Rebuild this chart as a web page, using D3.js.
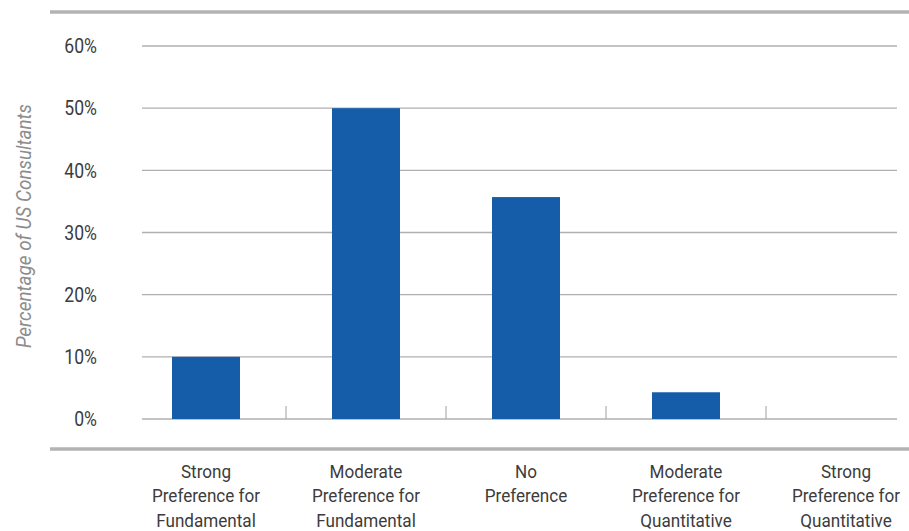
<!DOCTYPE html>
<html>
<head>
<meta charset="utf-8">
<script src="https://cdn.jsdelivr.net/npm/d3@7"></script>
<style>
  html, body { margin: 0; padding: 0; background: #fff; }
  svg { display: block; }
  text { font-family: "Roboto", "Liberation Sans", sans-serif; }
</style>
</head>
<body>
<svg id="chart" width="909" height="531"></svg>
<script>
// Survey responses: preference of US consultants between fundamental and quantitative managers
const categories = [
  ["Strong", "Preference for", "Fundamental"],
  ["Moderate", "Preference for", "Fundamental"],
  ["No", "Preference"],
  ["Moderate", "Preference for", "Quantitative"],
  ["Strong", "Preference for", "Quantitative"]
];
const values = [10, 50, 35.7, 4.3, 0];
const yTicks = [0, 10, 20, 30, 40, 50, 60];
const yTitle = "Percentage of US Consultants";

const svg = d3.select("#chart");

const keys = categories.map(c => c.join(" "));
const x = d3.scaleBand().domain(keys).range([126, 926]).paddingInner(0.575).paddingOuter(0.2875);
const y = d3.scaleLinear().domain([0, 60]).range([419, 46]);

const gridLeft = 142, gridRight = 897;
// narrow glyph proportions for all labels
const narrow = 0.88;

// Frame rules above and below the plot
svg.append("line").attr("x1", 50).attr("x2", 909).attr("y1", 12).attr("y2", 12)
  .attr("stroke", "#b3b3b3").attr("stroke-width", 3.5);
svg.append("line").attr("x1", 50).attr("x2", 909).attr("y1", 449).attr("y2", 449)
  .attr("stroke", "#b3b3b3").attr("stroke-width", 3.5);

// Horizontal gridlines
svg.append("g").selectAll("line").data(yTicks).join("line")
  .attr("x1", gridLeft).attr("x2", gridRight)
  .attr("y1", d => y(d)).attr("y2", d => y(d))
  .attr("stroke", "#b0b0b0").attr("stroke-width", 1.3);

// Y tick labels
svg.append("g").selectAll("text").data(yTicks).join("text")
  .attr("transform", d => `translate(97,${y(d)}) scale(${narrow},1)`)
  .attr("dy", "0.36em")
  .attr("text-anchor", "end")
  .attr("font-size", 20).attr("fill", "#3c3c3c")
  .text(d => d + "%");

// Category separator ticks on the baseline
const gap = x.step() - x.bandwidth();
svg.append("g").selectAll("line").data(keys.slice(1)).join("line")
  .attr("x1", d => x(d) - gap / 2)
  .attr("x2", d => x(d) - gap / 2)
  .attr("y1", y(0)).attr("y2", y(0) - 13)
  .attr("stroke", "#b0b0b0").attr("stroke-width", 1.2);

// Bars
svg.append("g").selectAll("rect").data(values).join("rect")
  .attr("x", (d, i) => x(keys[i]))
  .attr("width", x.bandwidth())
  .attr("y", d => y(d))
  .attr("height", d => y(0) - y(d))
  .attr("fill", "#155ca9");

// Category labels (stacked lines each)
const lab = svg.append("g").selectAll("text").data(categories).join("text")
  .attr("transform", (d, i) => `translate(${x(keys[i]) + x.bandwidth() / 2},478) scale(0.9,1)`)
  .attr("text-anchor", "middle")
  .attr("font-size", 19).attr("fill", "#3c3c3c");
lab.selectAll("tspan").data(d => d).join("tspan")
  .attr("x", 0)
  .attr("dy", (d, i) => i === 0 ? 0 : 24.5)
  .text(d => d);

// Y axis title
svg.append("text")
  .attr("transform", `translate(31,226) rotate(-90) scale(0.9,1)`)
  .attr("text-anchor", "middle")
  .attr("font-size", 21).attr("font-style", "italic").attr("fill", "#8c8c8c")
  .text(yTitle);
</script>
</body>
</html>
